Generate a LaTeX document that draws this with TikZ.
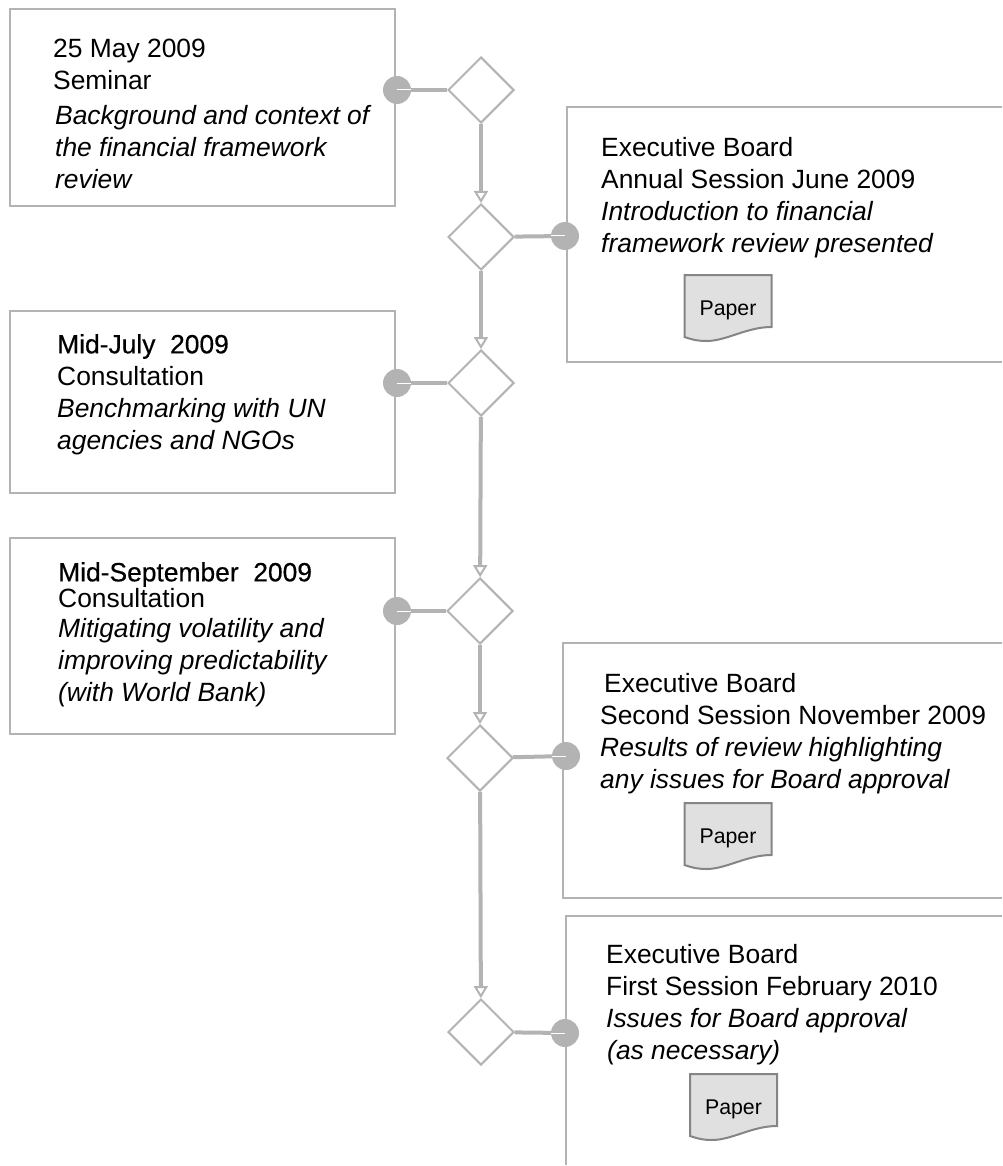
\documentclass[tikz,border=0pt]{standalone}
\usepackage{fontspec}
\setmainfont{Liberation Sans}
\newfontfamily\heavyfont[FakeBold=0.5]{Liberation Sans}
\usetikzlibrary{arrows.meta}
\usetikzlibrary{shapes.geometric}

\definecolor{linegray}{HTML}{B3B3B3}
\definecolor{papergray}{HTML}{E0E0E0}
\definecolor{paperedge}{HTML}{858585}

\tikzset{
    stagebox/.style={draw=linegray, line width=2pt, inner sep=0pt, anchor=north west},
    openbox/.style={draw=linegray, line width=2pt},
    decision/.style={diamond, draw=linegray, line width=2pt, fill=white, inner sep=0pt, minimum width=66pt, minimum height=66pt},
    joint/.style={circle, fill=linegray, inner sep=0pt, minimum size=28pt},
    flow/.style={draw=linegray, line width=4pt, -{Triangle[open, length=12pt, width=14pt, line width=2pt]}},
    link/.style={draw=linegray, line width=4pt},
    tick/.style={draw=white, line width=1pt},
    blurb/.style={anchor=north west, inner sep=0pt, align=left, font=\fontsize{26.4}{32}\selectfont},
    paperbox/.style={draw=paperedge, fill=papergray, line width=2pt},
    papertext/.style={anchor=base, inner sep=0pt, font=\fontsize{21.3}{24}\selectfont}
}

% document symbol, #2 and #3 are its top left corner
\newcommand{\paperdoc}[3]{
    \draw[paperbox, shift={(#2,#3)}] (0,0) -- (87,0) -- (87,52) .. controls (62,52) and (42,66) .. (22,66) .. controls (12,66) and (6,64) .. (0,62) -- cycle;
    \node[papertext] (#1) at (#2+43.5,#3+40) {Paper};
}

\begin{document}
\begin{tikzpicture}[x=1pt, y=-1pt]
        \useasboundingbox (0,0) rectangle (1002,1166);

        % boxes on the left
        \node[stagebox, minimum width=385pt, minimum height=197pt] (seminar) at (9,8) {};
        \node[stagebox, minimum width=385pt, minimum height=182pt] (july) at (9,310) {};
        \node[stagebox, minimum width=385pt, minimum height=196pt] (september) at (9,537) {};

        % boxes on the right run off the page
        \draw[openbox] (1002,107) -| (567,362) -- (1002,362);
        \draw[openbox] (1002,643) -| (563,898) -- (1002,898);
        \draw[openbox] (1002,916) -| (566,1165);

        \node[blurb] (seminartext) at (53,39) {25 May 2009\\Seminar\\[3pt]\hspace*{2pt}\textit{Background and context of}\\\hspace*{2pt}\textit{the financial framework}\\\hspace*{2pt}\textit{review}};
        \node[blurb] (julytext) at (57,334) {{\heavyfont Mid-July\ \ 2009}\\Consultation\\\textit{Benchmarking with UN}\\\textit{agencies and NGOs}};
        \node[blurb] (septembertext) at (58,562) {{\heavyfont Mid-September\ \ 2009}\\[-6pt]Consultation\\[-2pt]\textit{Mitigating volatility and}\\\textit{improving predictability}\\\textit{(with World Bank)}};
        \node[blurb] (junetext) at (601,137) {Executive Board\\Annual Session June 2009\\\textit{Introduction to financial}\\\textit{framework review presented}};
        \node[blurb] (novembertext) at (600,673) {\hspace*{4pt}Executive Board\\Second Session November 2009\\\textit{Results of review highlighting}\\\textit{any issues for Board approval}};
        \node[blurb] (februarytext) at (606,944) {Executive Board\\First Session February 2010\\\textit{Issues for Board approval}\\\hspace*{1pt}\textit{(as necessary)}};

        \paperdoc{paperjune}{684.5}{275}
        \paperdoc{papernovember}{684.5}{803}
        \paperdoc{paperfebruary}{690}{1074}

        \node[decision] (d1) at (481,90) {};
        \node[decision] (d2) at (481,237) {};
        \node[decision] (d3) at (481,383) {};
        \node[decision] (d4) at (480,611) {};
        \node[decision] (d5) at (480,758) {};
        \node[decision] (d6) at (481,1032) {};

        \node[joint] (j1) at (397,90) {};
        \node[joint] (j2) at (565,236) {};
        \node[joint] (j3) at (397,383) {};
        \node[joint] (j4) at (397,611) {};
        \node[joint] (j5) at (566,756) {};
        \node[joint] (j6) at (565,1033) {};

        \draw[flow] (d1) -- (d2);
        \draw[flow] (d2) -- (d3);
        \draw[flow] (d3) -- (d4);
        \draw[flow] (d4) -- (d5);
        \draw[flow] (d5) -- (d6);

        \draw[link] (j1) -- (d1);
        \draw[link] (d2) -- (j2);
        \draw[link] (j3) -- (d3);
        \draw[link] (j4) -- (d4);
        \draw[link] (d5) -- (j5);
        \draw[link] (d6) -- (j6);

        \draw[tick] (j1.center) -- (j1.east);
        \draw[tick] (j3.center) -- (j3.east);
        \draw[tick] (j4.center) -- (j4.east);
        \draw[tick] (j2.west) -- (j2.center);
        \draw[tick] (j5.west) -- (j5.center);
        \draw[tick] (j6.west) -- (j6.center);
    \end{tikzpicture}
\end{document}
